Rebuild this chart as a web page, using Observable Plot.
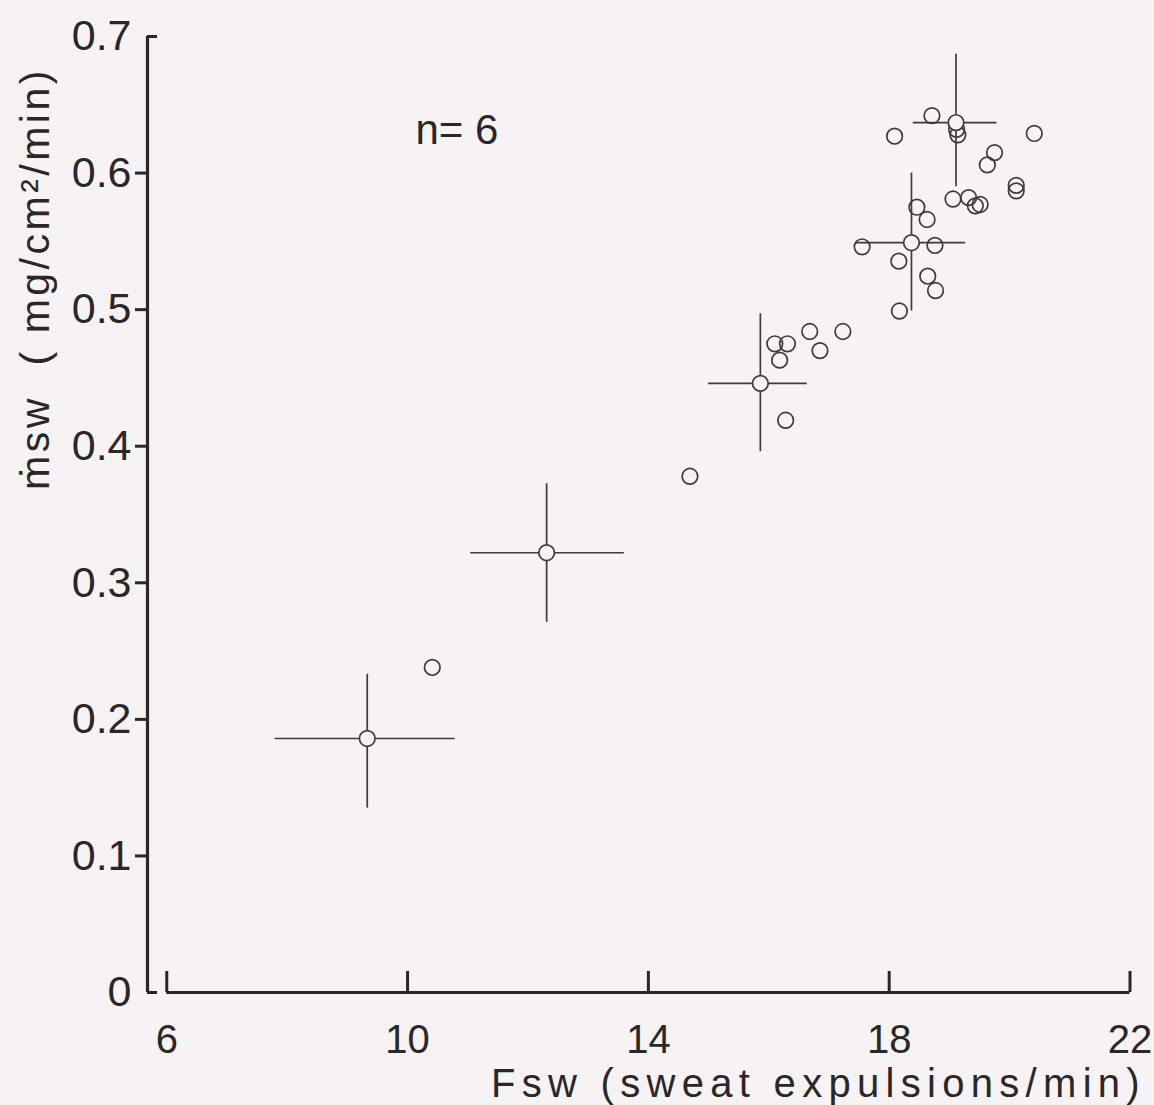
<!DOCTYPE html>
<html>
<head>
<meta charset="utf-8">
<script src="https://cdn.jsdelivr.net/npm/d3@7"></script>
<script src="https://cdn.jsdelivr.net/npm/@observablehq/plot@0.6"></script>
<style>
  html, body { margin: 0; padding: 0; background: #f7f3f5; }
  #chart svg { display: block; background: #f7f3f5; }
</style>
</head>
<body>
<div id="chart"></div>
<script>
// Individual observations: Fsw (sweat expulsions/min) vs msw (mg/cm2/min)
const fsw = [10.41, 14.69, 16.28, 16.10, 16.31, 16.18, 16.68, 16.85, 17.23, 18.17,
             18.64, 18.77, 18.16, 17.55, 18.76, 18.46, 18.63, 19.06, 19.32, 19.43,
             19.51, 20.11, 20.11, 19.63, 19.75, 18.09, 18.71, 19.12, 19.14, 20.41];
const msw = [0.238, 0.378, 0.419, 0.475, 0.475, 0.463, 0.484, 0.470, 0.484, 0.499,
             0.5245, 0.514, 0.5355, 0.546, 0.547, 0.575, 0.566, 0.581, 0.582, 0.576,
             0.577, 0.591, 0.587, 0.606, 0.615, 0.627, 0.642, 0.632, 0.628, 0.629];

// Group means with ranges (crosses)
const meanF   = [9.33, 12.31, 15.86, 18.37, 19.11];
const meanFlo = [7.80, 11.05, 15.00, 17.44, 18.40];
const meanFhi = [10.79, 13.60, 16.64, 19.27, 19.79];
const meanM   = [0.186, 0.322, 0.446, 0.549, 0.637];
const meanMlo = [0.135, 0.271, 0.396, 0.499, 0.590];
const meanMhi = [0.233, 0.3725, 0.497, 0.600, 0.687];

const xTicks = [6, 10, 14, 18, 22];
const yTicks = [0, 0.1, 0.2, 0.3, 0.4, 0.5, 0.6, 0.7];
const yTicksOut = [0.1, 0.2, 0.3, 0.4, 0.5, 0.6];
const yTicksIn = [0, 0.7];
const xDomain = [5.68, 22];
const yDomain = [0, 0.7];

const xTitle = "Fsw (sweat expulsions/min)";
const yTitle = "ṁsw\u00a0\u00a0( mg/cm²/min)";
const note = {x: 10.13, y: 0.631, text: "n= 6"};

const obs = fsw.map((f, i) => ({f, m: msw[i]}));
const means = meanF.map((f, i) => ({f, m: meanM[i], flo: meanFlo[i], fhi: meanFhi[i], mlo: meanMlo[i], mhi: meanMhi[i]}));

const ink = "#2b2628";
const lineInk = "#403a3c";
const bg = "#f7f3f5";
const font = "'Liberation Sans', Arial, sans-serif";

const W = 1154, H = 1105;
const mL = 147, mR = 24.5, mT = 36, mB = 113;
const frameW = W - mL - mR, frameH = H - mT - mB;

const chart = Plot.plot({
  width: W,
  height: H,
  marginLeft: mL,
  marginRight: mR,
  marginTop: mT,
  marginBottom: mB,
  style: {background: bg, fontFamily: font, color: ink},
  x: {domain: xDomain, axis: null},
  y: {domain: yDomain, axis: null},
  marks: [
    // axis lines
    Plot.ruleX([xDomain[0]], {y1: yDomain[0], y2: yDomain[1], stroke: ink, strokeWidth: 3.2}),
    Plot.ruleY([0], {x1: xTicks[0], x2: xTicks[xTicks.length - 1], stroke: ink, strokeWidth: 3.2}),
    // x ticks pointing up
    Plot.tickX(xTicks, {x: d => d, insetTop: frameH - 21, stroke: ink, strokeWidth: 3}),
    // y ticks pointing outward (left)
    Plot.axisY({ticks: yTicksOut, tickSize: 12, tickFormat: () => "", label: null, stroke: ink, strokeWidth: 3}),
    // y ticks at ends pointing right
    Plot.tickY(yTicksIn, {y: d => d, insetRight: frameW - 10, stroke: ink, strokeWidth: 3}),
    // tick labels
    Plot.axisY({ticks: yTicks, tickSize: 0, tickPadding: 16, label: null, fontSize: 43, fill: ink,
      tickFormat: d => d === 0 ? "0" : d.toFixed(1)}),
    Plot.axisX({ticks: xTicks, tickSize: 0, tickPadding: 32, label: null, fontSize: 40, fill: ink}),
    // axis titles
    Plot.text([xTitle], {text: d => d, frameAnchor: "bottom-right", dx: 16, dy: 104,
      textAnchor: "end", lineAnchor: "bottom", fontSize: 40, fill: ink}),
    Plot.text([yTitle], {text: d => d, frameAnchor: "top-left", dx: 35 - mL, dy: 278 - mT,
      rotate: -90, textAnchor: "middle", lineAnchor: "middle", fontSize: 41, fill: ink}),
    // annotation
    Plot.text([note], {x: "x", y: "y", text: "text", textAnchor: "start", fontSize: 42, fill: ink}),
    // crosses
    Plot.ruleX(means, {x: "f", y1: "mlo", y2: "mhi", stroke: lineInk, strokeWidth: 1.7}),
    Plot.ruleY(means, {y: "m", x1: "flo", x2: "fhi", stroke: lineInk, strokeWidth: 1.7}),
    // points
    Plot.dot(obs, {x: "f", y: "m", r: 7.8, fill: "none", stroke: lineInk, strokeWidth: 1.7}),
    Plot.dot(means, {x: "f", y: "m", r: 7.8, fill: bg, stroke: lineInk, strokeWidth: 1.7})
  ]
});

// widen the letter spacing of the two axis titles, as in the printed figure
chart.querySelectorAll("text").forEach(t => {
  if (t.textContent === xTitle) t.setAttribute("letter-spacing", "6.3");
  if (t.textContent === yTitle) t.setAttribute("letter-spacing", "3.5");
});

document.getElementById("chart").appendChild(chart);
</script>
</body>
</html>
